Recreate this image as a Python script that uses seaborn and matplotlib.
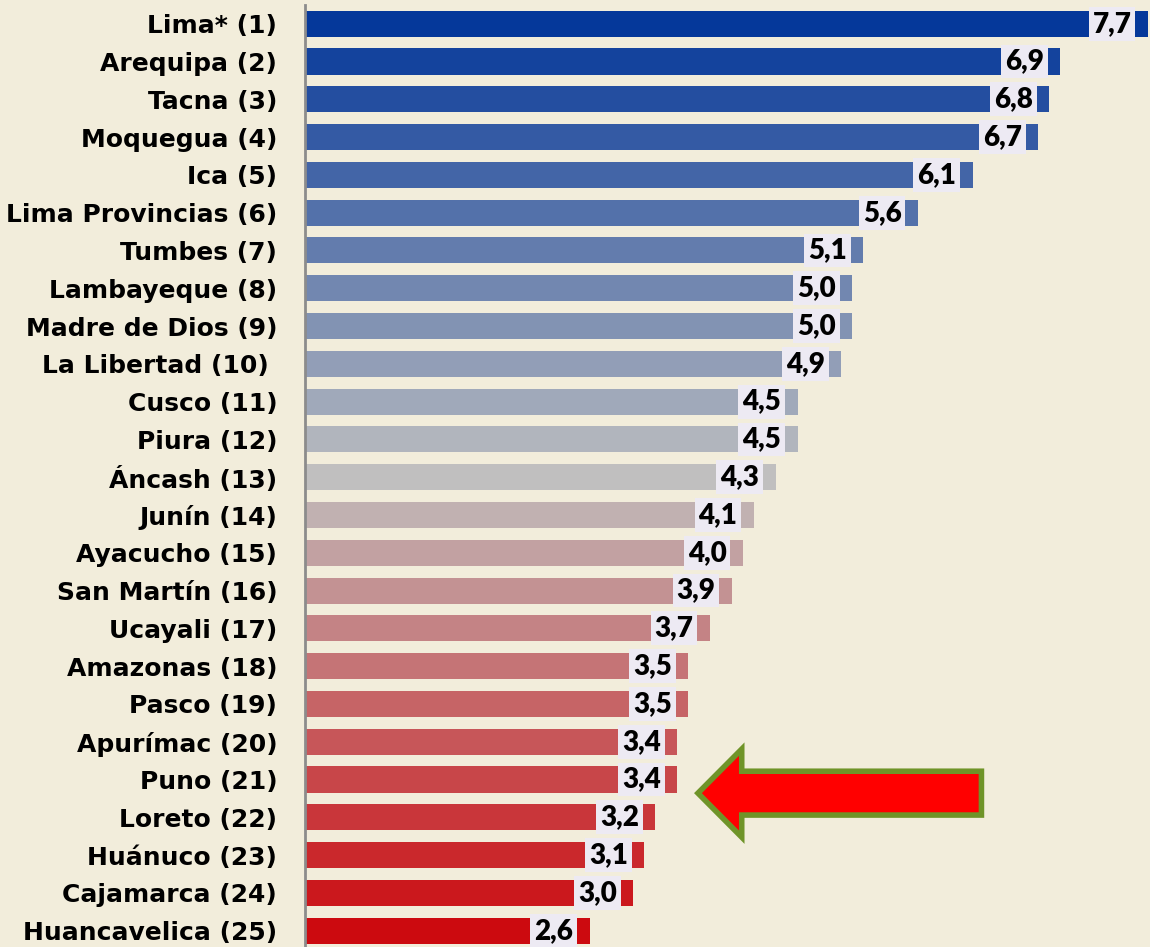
import matplotlib; matplotlib.use("Agg")
import matplotlib.pyplot as plt
import matplotlib.patches as mpatches
import seaborn as sns
import pandas as pd

regions = ["Lima* (1)", "Arequipa (2)", "Tacna (3)", "Moquegua (4)", "Ica (5)",
           "Lima Provincias (6)", "Tumbes (7)", "Lambayeque (8)", "Madre de Dios (9)",
           "La Libertad (10) ", "Cusco (11)", "Piura (12)", "Áncash (13)", "Junín (14)",
           "Ayacucho (15)", "San Martín (16)", "Ucayali (17)", "Amazonas (18)",
           "Pasco (19)", "Apurímac (20)", "Puno (21)", "Loreto (22)", "Huánuco (23)",
           "Cajamarca (24)", "Huancavelica (25)"]
values = [7.7, 6.9, 6.8, 6.7, 6.1, 5.6, 5.1, 5.0, 5.0, 4.9, 4.5, 4.5, 4.3, 4.1,
          4.0, 3.9, 3.7, 3.5, 3.5, 3.4, 3.4, 3.2, 3.1, 3.0, 2.6]

BG = "#F2EDDB"
colors = sns.blend_palette(["#05389A", "#C0C0C0", "#CC0A0F"], len(regions))

df = pd.DataFrame({"region": regions, "value": values})

sns.set_style("white")
plt.rcParams["font.family"] = ["DejaVu Sans"]

fig = plt.figure(figsize=(11.5, 9.47), dpi=100, facecolor=BG)
ax = fig.add_axes([305/1150, -2.6/947, 845/1150, 944.8/947])
ax.set_facecolor(BG)

sns.barplot(data=df, x="value", y="region", hue="region", palette=colors,
            legend=False, orient="h", width=0.69, saturation=1, linewidth=0, ax=ax)

for i, v in enumerate(values):
    ax.text(v - 0.15, i, f"{v:.1f}".replace(".", ","), ha="right", va="center",
            fontsize=20, fontweight="heavy", family="Lato", color="black",
            bbox=dict(boxstyle="square,pad=0.14", fc="#EDEAF3", ec="none"))

ax.set_xlim(0, 7.72)
ax.set_ylim(24.5, -0.5)
ax.set_xlabel("")
ax.set_ylabel("")
ax.set_xticks([])
ax.set_yticks(range(len(regions)))
ax.set_yticklabels(regions, fontsize=18, fontweight="bold", color="black")
ax.set_yticks([i + 0.5 for i in range(-1, len(regions))], minor=True)
ax.tick_params(axis="y", which="major", length=0, pad=20)
ax.tick_params(axis="y", which="minor", length=6, width=2, color="#8C8C8C")
for s in ["top", "right", "bottom"]:
    ax.spines[s].set_visible(False)
ax.spines["left"].set_color("#8C8C8C")
ax.spines["left"].set_linewidth(2)

# arrow pointing at Puno
arrow = mpatches.FancyArrow(6.18, 20.36, -(6.18 - 3.59), 0, width=1.16,
                            head_width=2.33, head_length=0.40,
                            length_includes_head=True, fc="#FF0000",
                            ec="#6F9428", lw=4, joinstyle="miter", zorder=5)
ax.add_patch(arrow)

fig.savefig("out.png", dpi=100, facecolor=BG)
